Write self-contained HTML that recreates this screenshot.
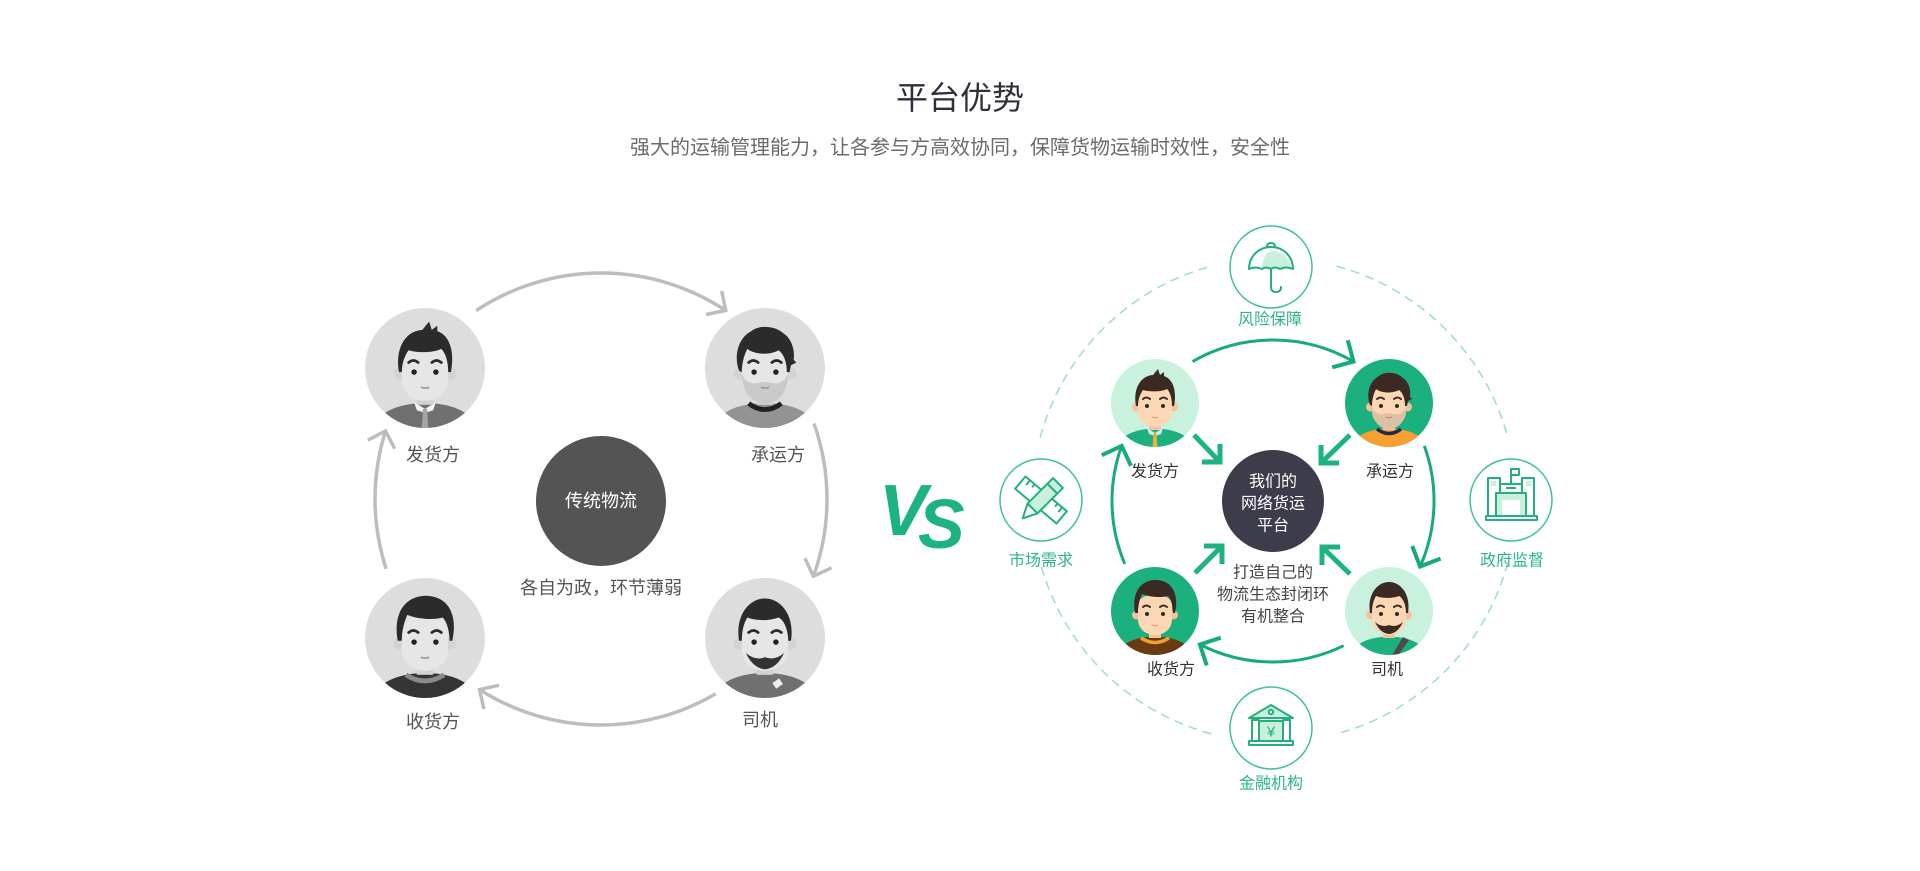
<!DOCTYPE html>
<html><head><meta charset="utf-8"><style>
html,body{margin:0;padding:0;background:#fff;}
body{width:1920px;height:871px;overflow:hidden;}
svg{display:block;}
text{font-family:"Liberation Sans","Noto Sans CJK SC",sans-serif;}
</style></head><body>
<svg width="1920" height="871" viewBox="0 0 1920 871" xmlns="http://www.w3.org/2000/svg">
<defs>
<clipPath id="cl"><circle cx="0" cy="0" r="44"/></clipPath>
</defs>

<!-- Title -->
<text x="960" y="98" text-anchor="middle" dominant-baseline="central" font-size="32" fill="#2f2f3a">平台优势</text>
<text x="960" y="148" text-anchor="middle" dominant-baseline="central" font-size="20" fill="#6b6b6b">强大的运输管理能力，让各参与方高效协同，保障货物运输时效性，安全性</text>

<!-- LEFT DIAGRAM arcs -->
<g fill="none" stroke="#bdbdbd" stroke-width="3.5">
<path d="M476.3,310.5 A226,226 0 0 1 725.7,310.5"/>
<path d="M814.0,423.6 A226,226 0 0 1 813.4,576.3"/>
<path d="M715.7,693.7 A226,226 0 0 1 479.6,689.6"/>
<path d="M386.1,568.8 A226,226 0 0 1 385.5,431.0"/>
<polyline points="706.1,314.5 725.7,310.5 721.7,290.9"/>
<polyline points="831.5,567.8 813.4,576.3 804.9,558.2"/>
<polyline points="483.9,709.1 479.6,689.6 499.1,685.3"/>
<polyline points="367.8,440.2 385.5,431.0 394.7,448.7"/>
</g>

<circle cx="601" cy="501" r="65" fill="#545454"/>
<text x="601" y="501" text-anchor="middle" dominant-baseline="central" font-size="18" fill="#fff">传统物流</text>
<text x="601" y="588" text-anchor="middle" dominant-baseline="central" font-size="18" fill="#555">各自为政，环节薄弱</text>

<!-- Left avatar: 发货方 -->
<g transform="translate(425,368) scale(1.3636)">
 <circle r="44" fill="#dddddd"/>
 <g clip-path="url(#cl)">
  <path d="M-40,50 C-38,34 -24,28 -8,26 L8,26 C24,28 38,34 40,50 Z" fill="#707070"/>
  <path d="M-8,25 L0,30 L8,25 L6,31 L0,33 L-6,31 Z" fill="#f4f4f4"/>
  <path d="M-1.5,30 L1.5,30 L2.5,46 L-2.5,46 Z" fill="#a5a5a5"/>
 </g>
 <rect x="-6" y="16" width="12" height="11" fill="#d2d2d2"/>
 <circle cx="-18.5" cy="4" r="4.5" fill="#d3d3d3"/><circle cx="18.5" cy="4" r="4.5" fill="#d3d3d3"/>
 <path d="M-17,-6 C-17,-20 17,-20 17,-6 L17,8 C17,19 8,24 0,24 C-8,24 -17,19 -17,8 Z" fill="#e6e6e6"/>
 <path d="M-19,3 C-22,-12 -16,-27 -2,-28 L3,-34 L5,-28 L9,-31 L9,-27 C18,-24 22,-12 19,3 L17,3 C17,-5 15,-11 12,-14 C6,-11 -6,-11 -12,-13 C-15,-9 -17,-3 -17,3 Z" fill="#2b2b2b"/>
 <path d="M-12,-4 Q-8.5,-7 -5,-4 M5,-4 Q8.5,-7 12,-4" stroke="#2b2b2b" stroke-width="2" fill="none" stroke-linecap="round"/>
 <circle cx="-8" cy="3" r="2" fill="#222"/><circle cx="8" cy="3" r="2" fill="#222"/>
 <path d="M-3,14 Q0,15.5 3,14" stroke="#999" stroke-width="1.2" fill="none"/>
</g>

<!-- Left avatar: 承运方 -->
<g transform="translate(765,368) scale(1.3636)">
 <circle r="44" fill="#dddddd"/>
 <g clip-path="url(#cl)">
  <path d="M-40,50 C-38,34 -24,28 -8,26 L8,26 C24,28 38,34 40,50 Z" fill="#939393"/>
  <path d="M-12,26 Q0,35 12,26" stroke="#222" stroke-width="3.5" fill="none"/>
 </g>
 <rect x="-6" y="16" width="12" height="11" fill="#d2d2d2"/>
 <circle cx="-18.5" cy="4" r="4.5" fill="#d3d3d3"/><circle cx="18.5" cy="4" r="4.5" fill="#d3d3d3"/>
 <path d="M-17,-6 C-17,-20 17,-20 17,-6 L17,8 C17,19 8,24 0,24 C-8,24 -17,19 -17,8 Z" fill="#e6e6e6"/>
 <path d="M-17,4 C-17,20 -8,26 0,26 C8,26 17,20 17,4 C15,10 10,12 5,11 C2,10 -2,10 -5,11 C-10,12 -15,10 -17,4 Z" fill="#c9c9c9"/>
 <path d="M-19,2 C-23,-8 -20,-22 -10,-27 C-4,-32 8,-31 14,-25 C20,-21 22,-12 21,-6 L23,-4 L19,-2 L18,3 L16,3 C16,-4 14,-10 10,-13 C3,-9 -8,-10 -13,-14 C-16,-8 -17,-2 -17,3 Z" fill="#2b2b2b"/>
 <path d="M-12,-4 Q-8.5,-7 -5,-4 M5,-4 Q8.5,-7 12,-4" stroke="#2b2b2b" stroke-width="2" fill="none" stroke-linecap="round"/>
 <circle cx="-8" cy="3" r="2" fill="#222"/><circle cx="8" cy="3" r="2" fill="#222"/>
 <path d="M-3,14 Q0,15.5 3,14" stroke="#999" stroke-width="1.2" fill="none"/>
</g>

<!-- Left avatar: 收货方 -->
<g transform="translate(425,638) scale(1.3636)">
 <circle r="44" fill="#dddddd"/>
 <g clip-path="url(#cl)">
  <path d="M-40,50 C-38,34 -24,28 -8,26 L8,26 C24,28 38,34 40,50 Z" fill="#343434"/>
  <path d="M-14,27 Q0,36 14,27" stroke="#8a8a8a" stroke-width="3.5" fill="none"/>
 </g>
 <rect x="-6" y="16" width="12" height="11" fill="#d2d2d2"/>
 <circle cx="-18.5" cy="4" r="4.5" fill="#d3d3d3"/><circle cx="18.5" cy="4" r="4.5" fill="#d3d3d3"/>
 <path d="M-17,-6 C-17,-20 17,-20 17,-6 L17,8 C17,19 8,24 0,24 C-8,24 -17,19 -17,8 Z" fill="#e6e6e6"/>
 <path d="M-20,2 C-23,-14 -18,-30 0,-31 C18,-31 24,-16 20,2 L18,2 C18,-5 16,-12 13,-15 C6,-13 -6,-14 -13,-17 C-16,-10 -17,-4 -17,2 Z" fill="#2b2b2b"/>
 <path d="M-12,-4 Q-8.5,-7 -5,-4 M5,-4 Q8.5,-7 12,-4" stroke="#2b2b2b" stroke-width="2" fill="none" stroke-linecap="round"/>
 <circle cx="-8" cy="3" r="2" fill="#222"/><circle cx="8" cy="3" r="2" fill="#222"/>
 <path d="M-3,14 Q0,15.5 3,14" stroke="#999" stroke-width="1.2" fill="none"/>
</g>

<!-- Left avatar: 司机 -->
<g transform="translate(765,638) scale(1.3636)">
 <circle r="44" fill="#dddddd"/>
 <g clip-path="url(#cl)">
  <path d="M-40,50 C-38,34 -24,28 -8,26 L8,26 C24,28 38,34 40,50 Z" fill="#707070"/>
  <rect x="6" y="31" width="6" height="5" fill="#eee" transform="rotate(-35 9 33)"/>
 </g>
 <rect x="-6" y="16" width="12" height="11" fill="#d2d2d2"/>
 <circle cx="-18.5" cy="4" r="4.5" fill="#d3d3d3"/><circle cx="18.5" cy="4" r="4.5" fill="#d3d3d3"/>
 <path d="M-17,-6 C-17,-20 17,-20 17,-6 L17,8 C17,19 8,24 0,24 C-8,24 -17,19 -17,8 Z" fill="#e6e6e6"/>
 <path d="M-19,2 C-22,-16 -12,-29 0,-29 C12,-29 22,-16 19,2 L17,2 C17,-6 14,-13 10,-15 C2,-12 -8,-13 -13,-15 C-16,-10 -17,-4 -17,2 Z" fill="#2b2b2b"/>
 <path d="M-12,-4 Q-8.5,-7 -5,-4 M5,-4 Q8.5,-7 12,-4" stroke="#2b2b2b" stroke-width="2" fill="none" stroke-linecap="round"/>
 <circle cx="-8" cy="3" r="2" fill="#222"/><circle cx="8" cy="3" r="2" fill="#222"/>
 <path d="M-14,11 Q-7,17 0,14 Q7,17 14,11 Q9,22 0,23 Q-9,22 -14,11 Z" fill="#333"/>
</g>

<text x="433" y="455" text-anchor="middle" dominant-baseline="central" font-size="18" fill="#555">发货方</text>
<text x="778" y="455" text-anchor="middle" dominant-baseline="central" font-size="18" fill="#555">承运方</text>
<text x="433" y="722" text-anchor="middle" dominant-baseline="central" font-size="18" fill="#555">收货方</text>
<text x="760" y="720" text-anchor="middle" dominant-baseline="central" font-size="18" fill="#555">司机</text>

<!-- VS -->
<g font-weight="bold" font-style="italic" fill="#1db381">
<text x="879" y="535" font-size="72">V</text>
<text x="918" y="548" font-size="70" stroke="#fff" stroke-width="5" paint-order="stroke">S</text>
</g>

<!-- RIGHT DIAGRAM dashed ring -->
<g fill="none" stroke="#a6dfc6" stroke-width="1.6" stroke-dasharray="9 6">
<path d="M1336.6,266.2 A242,242 0 0 1 1507.8,437.4"/>
<path d="M1507.8,562.6 A242,242 0 0 1 1336.6,733.8"/>
<path d="M1211.4,733.8 A242,242 0 0 1 1040.2,562.6"/>
<path d="M1040.2,437.4 A242,242 0 0 1 1211.4,266.2"/>
</g>

<!-- green arcs -->
<g fill="none" stroke="#17ab7c" stroke-width="3">
<path d="M1192.5,361.6 A161,161 0 0 1 1353.5,361.6"/>
<path d="M1424.3,445.9 A161,161 0 0 1 1420.1,566.5"/>
<path d="M1343.6,645.7 A161,161 0 0 1 1199.9,644.5"/>
<path d="M1124.8,563.9 A161,161 0 0 1 1121.7,445.9"/>
</g>
<g fill="none" stroke="#17ab7c" stroke-width="4">
<polyline points="1347.8,340.3 1353.5,361.6 1332.2,367.3"/>
<polyline points="1440.6,558.6 1420.1,566.5 1412.2,546.0"/>
<polyline points="1206.7,665.4 1199.9,644.5 1220.8,637.7"/>
<polyline points="1101.8,455.2 1121.7,445.9 1131.0,465.8"/>
</g>
<g fill="none" stroke="#1db381" stroke-width="5">
<line x1="1194" y1="435" x2="1218" y2="460"/>
<polyline points="1220,444 1220,462 1202,462"/>
<line x1="1350" y1="435" x2="1323" y2="461"/>
<polyline points="1321,445 1321,463 1339,463"/>
<line x1="1195" y1="573" x2="1220" y2="548"/>
<polyline points="1204,546 1222,546 1222,564"/>
<line x1="1350" y1="574" x2="1324" y2="549"/>
<polyline points="1340,547 1322,547 1322,565"/>
</g>

<!-- center -->
<circle cx="1273" cy="501" r="51" fill="#3c3c4b"/>
<g text-anchor="middle" dominant-baseline="central" font-size="16" fill="#fff">
<text x="1273" y="482">我们的</text>
<text x="1273" y="504">网络货运</text>
<text x="1273" y="526">平台</text>
</g>
<g text-anchor="middle" dominant-baseline="central" font-size="16" fill="#444">
<text x="1273" y="573">打造自己的</text>
<text x="1273" y="595">物流生态封闭环</text>
<text x="1273" y="617">有机整合</text>
</g>

<!-- Right avatar: 发货方 -->
<g transform="translate(1155,403)">
 <circle r="44" fill="#c8f2dd"/>
 <g clip-path="url(#cl)">
  <path d="M-40,50 C-38,34 -24,28 -8,26 L8,26 C24,28 38,34 40,50 Z" fill="#1bb07e"/>
  <path d="M-8,25 L0,30 L8,25 L6,31 L0,33 L-6,31 Z" fill="#d8eef9"/>
  <path d="M-1.5,30 L1.5,30 L2.5,46 L-2.5,46 Z" fill="#f2b134"/>
 </g>
 <rect x="-6" y="16" width="12" height="11" fill="#f3c29c"/>
 <circle cx="-18.5" cy="4" r="4.5" fill="#f5c19a"/><circle cx="18.5" cy="4" r="4.5" fill="#f5c19a"/>
 <path d="M-17,-6 C-17,-20 17,-20 17,-6 L17,8 C17,19 8,24 0,24 C-8,24 -17,19 -17,8 Z" fill="#fdd7b4"/>
 <path d="M-19,3 C-22,-12 -16,-27 -2,-28 L3,-34 L5,-28 L9,-31 L9,-27 C18,-24 22,-12 19,3 L17,3 C17,-5 15,-11 12,-14 C6,-11 -6,-11 -12,-13 C-15,-9 -17,-3 -17,3 Z" fill="#3a2a23"/>
 <path d="M-12,-4 Q-8.5,-7 -5,-4 M5,-4 Q8.5,-7 12,-4" stroke="#3a2a23" stroke-width="2" fill="none" stroke-linecap="round"/>
 <circle cx="-8" cy="3" r="2" fill="#2a2a2a"/><circle cx="8" cy="3" r="2" fill="#2a2a2a"/>
 <path d="M-3,14 Q0,15.5 3,14" stroke="#d99a7a" stroke-width="1.2" fill="none"/>
</g>

<!-- Right avatar: 承运方 -->
<g transform="translate(1389,403)">
 <circle r="44" fill="#1bb07e"/>
 <g clip-path="url(#cl)">
  <path d="M-40,50 C-38,34 -24,28 -8,26 L8,26 C24,28 38,34 40,50 Z" fill="#f99f32"/>
  <path d="M-12,26 Q0,35 12,26" stroke="#1c2b4d" stroke-width="3.5" fill="none"/>
 </g>
 <rect x="-6" y="16" width="12" height="11" fill="#f3c29c"/>
 <circle cx="-18.5" cy="4" r="4.5" fill="#f5c19a"/><circle cx="18.5" cy="4" r="4.5" fill="#f5c19a"/>
 <path d="M-17,-6 C-17,-20 17,-20 17,-6 L17,8 C17,19 8,24 0,24 C-8,24 -17,19 -17,8 Z" fill="#fdd7b4"/>
 <path d="M-17,4 C-17,20 -8,26 0,26 C8,26 17,20 17,4 C15,10 10,12 5,11 C2,10 -2,10 -5,11 C-10,12 -15,10 -17,4 Z" fill="#dcc1a6"/>
 <path d="M-19,2 C-23,-8 -20,-22 -10,-27 C-4,-32 8,-31 14,-25 C20,-21 22,-12 21,-6 L23,-4 L19,-2 L18,3 L16,3 C16,-4 14,-10 10,-13 C3,-9 -8,-10 -13,-14 C-16,-8 -17,-2 -17,3 Z" fill="#3a2a23"/>
 <path d="M-12,-4 Q-8.5,-7 -5,-4 M5,-4 Q8.5,-7 12,-4" stroke="#3a2a23" stroke-width="2" fill="none" stroke-linecap="round"/>
 <circle cx="-8" cy="3" r="2" fill="#2a2a2a"/><circle cx="8" cy="3" r="2" fill="#2a2a2a"/>
 <path d="M-3,14 Q0,15.5 3,14" stroke="#c9855f" stroke-width="1.2" fill="none"/>
</g>

<!-- Right avatar: 收货方 -->
<g transform="translate(1155,611)">
 <circle r="44" fill="#1bb07e"/>
 <g clip-path="url(#cl)">
  <path d="M-40,50 C-38,34 -24,28 -8,26 L8,26 C24,28 38,34 40,50 Z" fill="#6a3a12"/>
  <path d="M-14,27 Q0,36 14,27" stroke="#f59e35" stroke-width="3.5" fill="none"/>
 </g>
 <rect x="-6" y="16" width="12" height="11" fill="#f3c29c"/>
 <circle cx="-18.5" cy="4" r="4.5" fill="#f5c19a"/><circle cx="18.5" cy="4" r="4.5" fill="#f5c19a"/>
 <path d="M-17,-6 C-17,-20 17,-20 17,-6 L17,8 C17,19 8,24 0,24 C-8,24 -17,19 -17,8 Z" fill="#fdd7b4"/>
 <path d="M-20,2 C-23,-14 -18,-30 0,-31 C18,-31 24,-16 20,2 L18,2 C18,-5 16,-12 13,-15 C6,-13 -6,-14 -13,-17 C-16,-10 -17,-4 -17,2 Z" fill="#3a2a23"/>
 <path d="M-12,-4 Q-8.5,-7 -5,-4 M5,-4 Q8.5,-7 12,-4" stroke="#3a2a23" stroke-width="2" fill="none" stroke-linecap="round"/>
 <circle cx="-8" cy="3" r="2" fill="#2a2a2a"/><circle cx="8" cy="3" r="2" fill="#2a2a2a"/>
 <path d="M-3,14 Q0,15.5 3,14" stroke="#d99a7a" stroke-width="1.2" fill="none"/>
</g>

<!-- Right avatar: 司机 -->
<g transform="translate(1389,611)">
 <circle r="44" fill="#c8f2dd"/>
 <g clip-path="url(#cl)">
  <path d="M-40,50 C-38,34 -24,28 -8,26 L8,26 C24,28 38,34 40,50 Z" fill="#1bb07e"/>
  <path d="M14,26 L20,29 L8,46 L2,46 Z" fill="#4a4a4a"/>
 </g>
 <rect x="-6" y="16" width="12" height="11" fill="#f3c29c"/>
 <circle cx="-18.5" cy="4" r="4.5" fill="#f5c19a"/><circle cx="18.5" cy="4" r="4.5" fill="#f5c19a"/>
 <path d="M-17,-6 C-17,-20 17,-20 17,-6 L17,8 C17,19 8,24 0,24 C-8,24 -17,19 -17,8 Z" fill="#fdd7b4"/>
 <path d="M-19,2 C-22,-16 -12,-29 0,-29 C12,-29 22,-16 19,2 L17,2 C17,-6 14,-13 10,-15 C2,-12 -8,-13 -13,-15 C-16,-10 -17,-4 -17,2 Z" fill="#3a2a23"/>
 <path d="M-12,-4 Q-8.5,-7 -5,-4 M5,-4 Q8.5,-7 12,-4" stroke="#3a2a23" stroke-width="2" fill="none" stroke-linecap="round"/>
 <circle cx="-8" cy="3" r="2" fill="#2a2a2a"/><circle cx="8" cy="3" r="2" fill="#2a2a2a"/>
 <path d="M-14,11 Q-7,17 0,14 Q7,17 14,11 Q9,22 0,23 Q-9,22 -14,11 Z" fill="#3a2a23"/>
</g>

<g text-anchor="middle" dominant-baseline="central" font-size="16" fill="#333">
<text x="1155" y="472">发货方</text>
<text x="1390" y="472">承运方</text>
<text x="1171" y="670">收货方</text>
<text x="1387" y="670">司机</text>
</g>

<!-- icon circles -->
<g fill="#fff" stroke="#3ec48f" stroke-width="1.5">
<circle cx="1271" cy="267" r="41"/>
<circle cx="1041" cy="500" r="41"/>
<circle cx="1511" cy="500" r="41"/>
<circle cx="1271" cy="728" r="41"/>
</g>

<!-- umbrella -->
<g fill="none" stroke="#22b07d" stroke-width="2" stroke-linejoin="round" stroke-linecap="round">
<path d="M1272,251 C1283,251 1290,259 1291,268 L1262,268 C1263,258 1266,251 1272,251 Z" fill="#c9f0dc" stroke="none"/>
<path d="M1249,269 C1249,256 1259,247 1271,247 C1283,247 1293,256 1293,269 Q1286,266 1280,269 Q1275,266 1271,269 Q1266,266 1262,269 Q1256,266 1249,269 Z"/>
<path d="M1267,247 Q1267,243 1271,243 Q1275,243 1275,247"/>
<path d="M1271,269 L1271,287 Q1271,292 1276,292 Q1281,292 1281,287"/>
</g>

<!-- pencil & ruler -->
<g fill="none" stroke="#22b07d" stroke-width="2" stroke-linejoin="round">
<g transform="rotate(40 1041 500)">
 <rect x="1014" y="492" width="54" height="16" fill="#fff"/>
 <path d="M1020,492 v6 M1026,492 v4 M1056,492 v4 M1062,492 v6"/>
</g>
<g transform="rotate(-45 1041 500)">
 <rect x="1029" y="493" width="36" height="14" fill="#c9f0dc"/>
 <path d="M1029,493 L1015,500 L1029,507 Z" fill="#fff"/>
 <path d="M1057,493 v14"/>
</g>
</g>

<!-- building -->
<g fill="none" stroke="#22b07d" stroke-width="2" stroke-linejoin="round">
<rect x="1488" y="478" width="12" height="38" fill="#fff"/>
<rect x="1522" y="478" width="12" height="38" fill="#fff"/>
<rect x="1491" y="481" width="5" height="5" fill="#c9f0dc" stroke="none"/>
<rect x="1526" y="481" width="5" height="5" fill="#c9f0dc" stroke="none"/>
<rect x="1500" y="484" width="22" height="9" fill="#fff"/>
<rect x="1496" y="493" width="30" height="23" fill="#c9f0dc"/>
<rect x="1502" y="500" width="18" height="16" fill="#fff" stroke="none"/>
<path d="M1511,484 V470"/>
<rect x="1511" y="469" width="8" height="6" fill="#fff"/>
<path d="M1506,488 h10"/>
<rect x="1486" y="516" width="51" height="4" fill="#fff"/>
</g>

<!-- bank -->
<g fill="none" stroke="#22b07d" stroke-width="2" stroke-linejoin="round">
<path d="M1249,718 L1271,705 L1293,718 Z" fill="#c9f0dc"/>
<circle cx="1271" cy="712" r="2.2" fill="#fff"/>
<rect x="1259" y="721" width="24" height="20" fill="#c9f0dc"/>
<rect x="1252" y="720" width="7" height="21" fill="#fff"/>
<rect x="1283" y="720" width="7" height="21" fill="#fff"/>
<rect x="1249" y="741" width="44" height="4" fill="#fff"/>
</g>
<text x="1271" y="732" text-anchor="middle" dominant-baseline="central" font-size="15" fill="#22b07d">¥</text>

<g text-anchor="middle" dominant-baseline="central" font-size="16" fill="#2cb585">
<text x="1270" y="320">风险保障</text>
<text x="1041" y="561">市场需求</text>
<text x="1512" y="561">政府监督</text>
<text x="1271" y="784">金融机构</text>
</g>
</svg>
</body></html>
